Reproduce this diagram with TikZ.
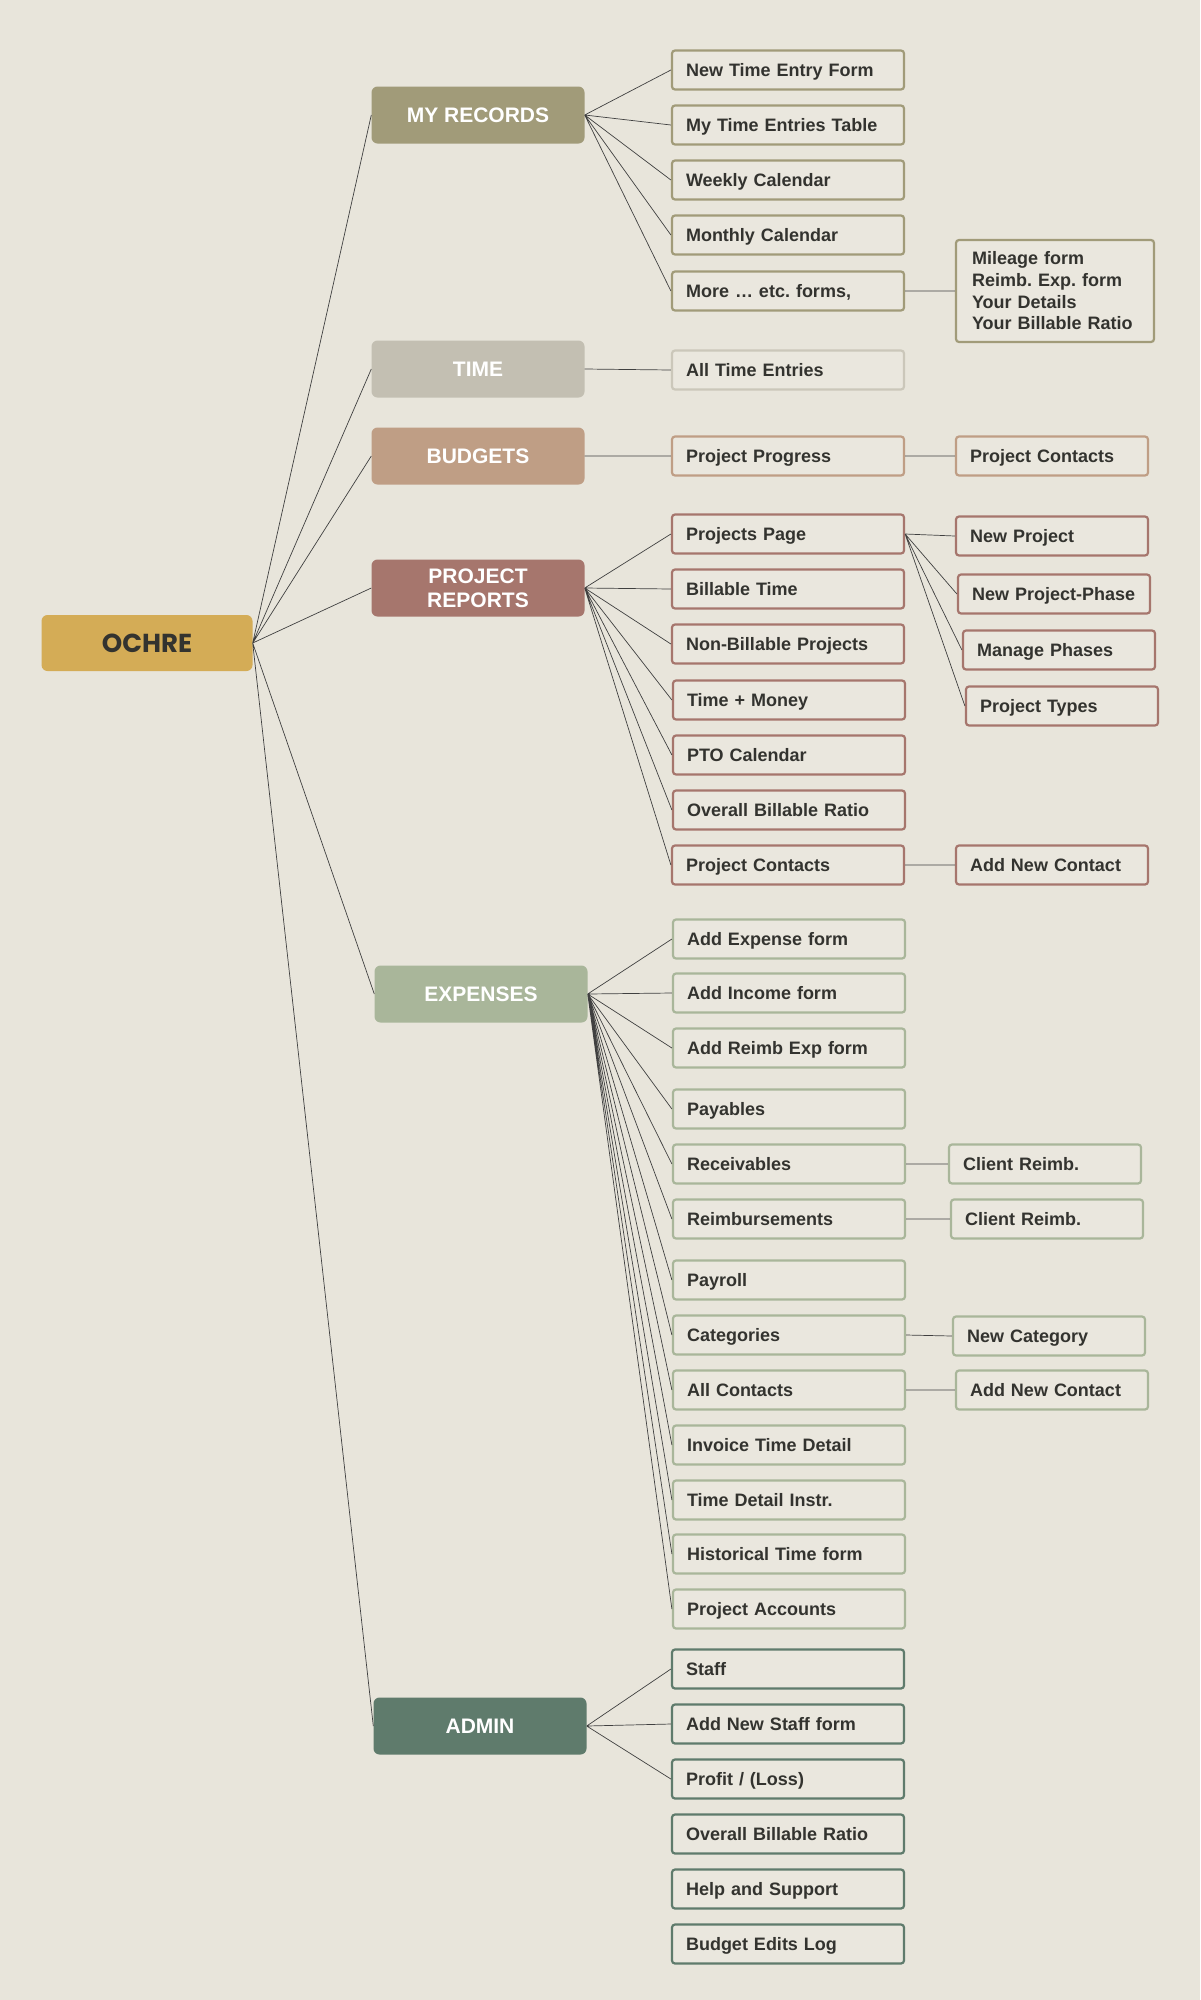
\documentclass[tikz,border=0pt]{standalone}
\usepackage{fontspec}
\setmainfont{Liberation Sans}
\newfontfamily\ochrefont{Poppins}
\frenchspacing
\definecolor{bgcol}{HTML}{E8E5DB}
\definecolor{leafcol}{HTML}{EAE7DE}
\definecolor{txtcol}{HTML}{33332F}
\definecolor{linkcol}{HTML}{404040}
\definecolor{ochrecol}{HTML}{D4AC56}
\definecolor{myreccol}{HTML}{A19B79}
\definecolor{timecol}{HTML}{C3BFB2}
\definecolor{timeline}{HTML}{CBC7BA}
\definecolor{budgcol}{HTML}{BF9E85}
\definecolor{prepcol}{HTML}{A6766D}
\definecolor{expncol}{HTML}{A9B69A}
\definecolor{admncol}{HTML}{5F7B6C}

\begin{document}
\begin{tikzpicture}[x=1pt, y=-1pt,
    link/.style={draw=linkcol, line width=0.7pt},
    rootbox/.style={fill=ochrecol, rounded corners=6pt, minimum width=211pt, minimum height=56pt,
        text=txtcol, font=\ochrefont\bfseries\fontsize{26}{28}\selectfont},
    cat/.style={fill=#1, rounded corners=6pt, minimum width=213pt, minimum height=57pt, inner sep=0pt,
        align=center, text=white, font=\bfseries\fontsize{21}{24}\selectfont},
    leaf/.style={draw=#1, line width=2.2pt, fill=leafcol, rounded corners=3pt, minimum height=39pt,
        text width=204pt, inner xsep=14pt, align=left, text=txtcol, text height=13pt, text depth=0pt,
        font=\bfseries\fontsize{18}{21.7}\selectfont},
    sub/.style={leaf=#1, text width=164pt}]

    % 0. Nền
    \fill[bgcol] (0,0) rectangle (1200,2000);

    % 1. Gốc và các nhánh chính
    \node[rootbox] (ochre) at (147,643) {OCHRE};
    \node[cat=myreccol] (myrec) at (478,115) {MY RECORDS};
    \node[cat=timecol] (time) at (478,369) {TIME};
    \node[cat=budgcol] (budg) at (478,456) {BUDGETS};
    \node[cat=prepcol] (prep) at (478,588) {PROJECT\\REPORTS};
    \node[cat=expncol] (expn) at (481,994) {EXPENSES};
    \node[cat=admncol] (admn) at (480,1726) {ADMIN};

    % 2. MY RECORDS
    \node[leaf=myreccol] (mr1) at (788,70) {New Time Entry Form};
    \node[leaf=myreccol] (mr2) at (788,125) {My Time Entries Table};
    \node[leaf=myreccol] (mr3) at (788,180) {Weekly Calendar};
    \node[leaf=myreccol] (mr4) at (788,235) {Monthly Calendar};
    \node[leaf=myreccol] (mr5) at (788,291) {More … etc. forms,};
    \node[sub=myreccol, text width=166pt, inner xsep=16pt, minimum height=102pt,
        text height={}, text depth={}] (more) at (1055,291)
        {Mileage form\\Reimb. Exp. form\\Your Details\\Your Billable Ratio};

    % 3. TIME, BUDGETS
    \node[leaf=timeline] (tm1) at (788,370) {All Time Entries};
    \node[leaf=budgcol] (bd1) at (788,456) {Project Progress};
    \node[sub=budgcol] (bd2) at (1052,456) {Project Contacts};

    % 4. PROJECT REPORTS
    \node[leaf=prepcol] (pr1) at (788,534) {Projects Page};
    \node[leaf=prepcol] (pr2) at (788,589) {Billable Time};
    \node[leaf=prepcol] (pr3) at (788,644) {Non-Billable Projects};
    \node[leaf=prepcol] (pr4) at (789,700) {Time + Money};
    \node[leaf=prepcol] (pr5) at (789,755) {PTO Calendar};
    \node[leaf=prepcol] (pr6) at (789,810) {Overall Billable Ratio};
    \node[leaf=prepcol] (pr7) at (788,865) {Project Contacts};
    \node[sub=prepcol] (pp1) at (1052,536) {New Project};
    \node[sub=prepcol] (pp2) at (1054,594) {New Project-Phase};
    \node[sub=prepcol] (pp3) at (1059,650) {Manage Phases};
    \node[sub=prepcol] (pp4) at (1062,706) {Project Types};
    \node[sub=prepcol] (pc1) at (1052,865) {Add New Contact};

    % 5. EXPENSES
    \node[leaf=expncol] (ex1) at (789,939) {Add Expense form};
    \node[leaf=expncol] (ex2) at (789,993) {Add Income form};
    \node[leaf=expncol] (ex3) at (789,1048) {Add Reimb Exp form};
    \node[leaf=expncol] (ex4) at (789,1109) {Payables};
    \node[leaf=expncol] (ex5) at (789,1164) {Receivables};
    \node[leaf=expncol] (ex6) at (789,1219) {Reimbursements};
    \node[leaf=expncol] (ex7) at (789,1280) {Payroll};
    \node[leaf=expncol] (ex8) at (789,1335) {Categories};
    \node[leaf=expncol] (ex9) at (789,1390) {All Contacts};
    \node[leaf=expncol] (ex10) at (789,1445) {Invoice Time Detail};
    \node[leaf=expncol] (ex11) at (789,1500) {Time Detail Instr.};
    \node[leaf=expncol] (ex12) at (789,1554) {Historical Time form};
    \node[leaf=expncol] (ex13) at (789,1609) {Project Accounts};
    \node[sub=expncol] (rc1) at (1045,1164) {Client Reimb.};
    \node[sub=expncol] (rm1) at (1047,1219) {Client Reimb.};
    \node[sub=expncol] (ct1) at (1049,1336) {New Category};
    \node[sub=expncol] (ac1) at (1052,1390) {Add New Contact};

    % 6. ADMIN
    \node[leaf=admncol] (ad1) at (788,1669) {Staff};
    \node[leaf=admncol] (ad2) at (788,1724) {Add New Staff form};
    \node[leaf=admncol] (ad3) at (788,1779) {Profit / (Loss)};
    \node[leaf=admncol] (ad4) at (788,1834) {Overall Billable Ratio};
    \node[leaf=admncol] (ad5) at (788,1889) {Help and Support};
    \node[leaf=admncol] (ad6) at (788,1944) {Budget Edits Log};

    % 7. Đường nối
    \draw[link] (ochre.east) -- (myrec.west) (ochre.east) -- (time.west)
        (ochre.east) -- (budg.west) (ochre.east) -- (prep.west)
        (ochre.east) -- (expn.west) (ochre.east) -- (admn.west);
    \draw[link] (myrec.east) -- (mr1.west) (myrec.east) -- (mr2.west) (myrec.east) -- (mr3.west)
        (myrec.east) -- (mr4.west) (myrec.east) -- (mr5.west) (mr5.east) -- (more.west);
    \draw[link] (time.east) -- (tm1.west) (budg.east) -- (bd1.west) (bd1.east) -- (bd2.west);
    \draw[link] (prep.east) -- (pr1.west) (prep.east) -- (pr2.west) (prep.east) -- (pr3.west)
        (prep.east) -- (pr4.west) (prep.east) -- (pr5.west) (prep.east) -- (pr6.west)
        (prep.east) -- (pr7.west) (pr7.east) -- (pc1.west);
    \draw[link] (pr1.east) -- (pp1.west) (pr1.east) -- (pp2.west)
        (pr1.east) -- (pp3.west) (pr1.east) -- (pp4.west);
    \draw[link] (expn.east) -- (ex1.west) (expn.east) -- (ex2.west) (expn.east) -- (ex3.west)
        (expn.east) -- (ex4.west) (expn.east) -- (ex5.west) (expn.east) -- (ex6.west)
        (expn.east) -- (ex7.west) (expn.east) -- (ex8.west) (expn.east) -- (ex9.west)
        (expn.east) -- (ex10.west) (expn.east) -- (ex11.west) (expn.east) -- (ex12.west)
        (expn.east) -- (ex13.west);
    \draw[link] (ex5.east) -- (rc1.west) (ex6.east) -- (rm1.west)
        (ex8.east) -- (ct1.west) (ex9.east) -- (ac1.west);
    \draw[link] (admn.east) -- (ad1.west) (admn.east) -- (ad2.west) (admn.east) -- (ad3.west);

\end{tikzpicture}
\end{document}
